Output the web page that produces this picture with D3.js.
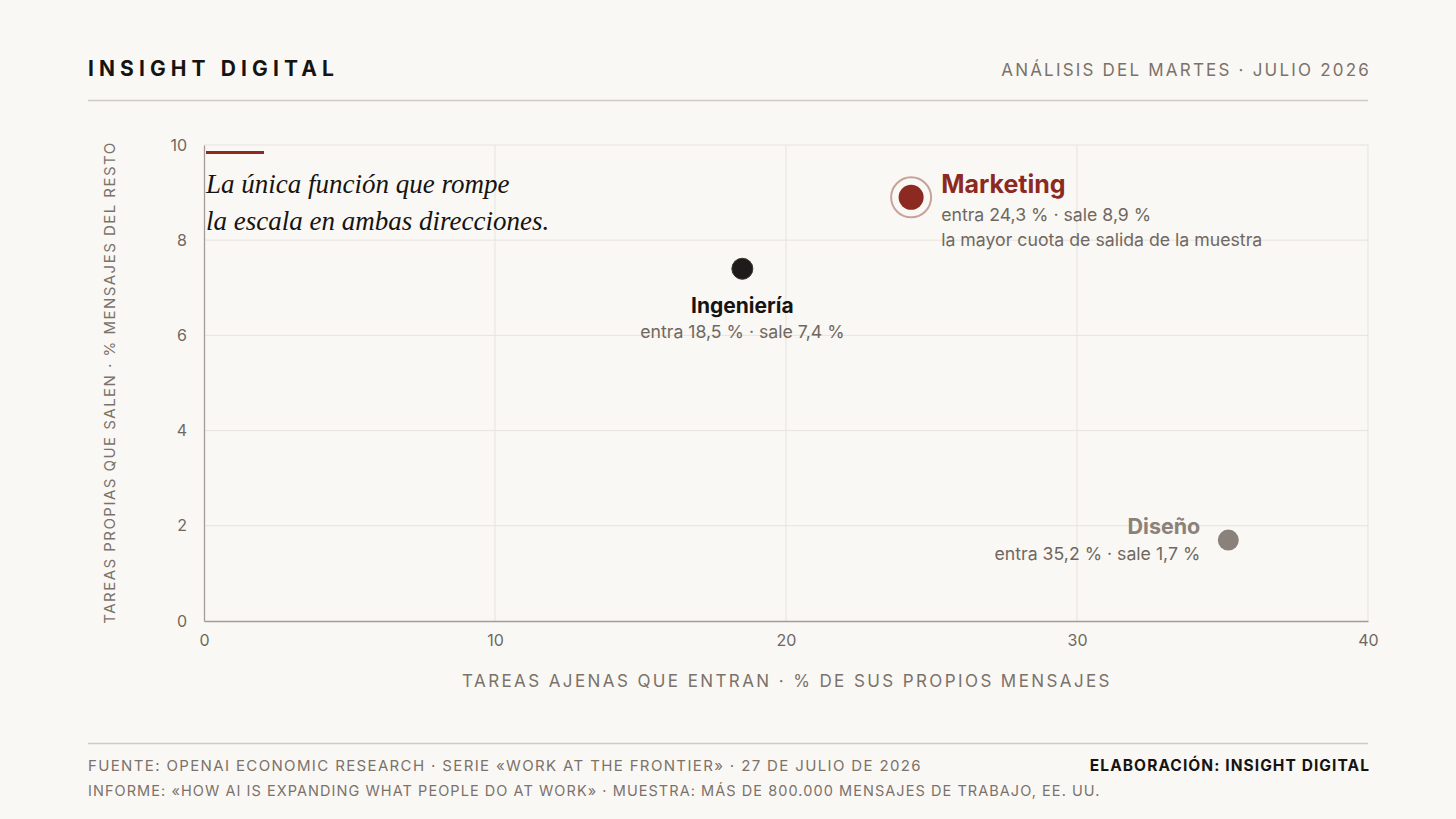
<!DOCTYPE html>
<html><head><meta charset="utf-8">
<script src="https://cdn.jsdelivr.net/npm/d3@7"></script>
<style>
html,body{margin:0;padding:0;background:#faf8f4;}
svg{display:block;font-family:Inter,"Noto Sans",sans-serif;}
</style></head>
<body><svg id="c" width="1456" height="819"></svg>
<script>
const names = ["Ingeniería","Marketing","Diseño"];
const entra = [18.5, 24.3, 35.2];
const sale = [7.4, 8.9, 1.7];
const subs = ["entra 18,5 % · sale 7,4 %","entra 24,3 % · sale 8,9 %","entra 35,2 % · sale 1,7 %"];
const extra = ["","la mayor cuota de salida de la muestra",""];
const xTicks = [0,10,20,30,40];
const yTicks = [0,2,4,6,8,10];

const svg = d3.select("#c");
const W=1456;
svg.append("rect").attr("width",W).attr("height",819).attr("fill","#faf8f4");

// header
svg.append("text").attr("x",88).attr("y",76).text("INSIGHT DIGITAL")
  .attr("font-size",21).attr("font-weight",700).attr("letter-spacing",5.1).attr("fill","#161412");
svg.append("text").attr("x",1371).attr("y",76).attr("text-anchor","end").text("ANÁLISIS DEL MARTES · JULIO 2026")
  .attr("font-size",17).attr("letter-spacing",2.2).attr("fill","#7a726b");
svg.append("line").attr("x1",88).attr("x2",1368).attr("y1",100.5).attr("y2",100.5).attr("stroke","#cfcbc5").attr("stroke-width",1.5);

const x = d3.scaleLinear().domain([0,40]).range([204,1368]);
const y = d3.scaleLinear().domain([0,10]).range([621,145]);

// grid
const g = svg.append("g");
g.selectAll(".gx").data(xTicks.slice(1)).join("line")
  .attr("x1",d=>x(d)).attr("x2",d=>x(d)).attr("y1",y(0)).attr("y2",y(10)).attr("stroke","#e6e3de");
g.selectAll(".gy").data(yTicks.slice(1)).join("line")
  .attr("x1",x(0)).attr("x2",x(40)).attr("y1",d=>y(d)).attr("y2",d=>y(d)).attr("stroke","#e6e3de");

// axes
const xa = svg.append("g").attr("transform",`translate(0,${y(0)})`)
  .call(d3.axisBottom(x).tickValues(xTicks).tickSize(0).tickPadding(14));
const ya = svg.append("g").attr("transform",`translate(${x(0)},0)`)
  .call(d3.axisLeft(y).tickValues(yTicks).tickSize(0).tickPadding(17));
[xa,ya].forEach(a=>{
  a.select(".domain").attr("stroke","#a39d97").attr("stroke-width",1.3);
  a.selectAll("text").attr("font-family","Inter,sans-serif").attr("font-size",16).attr("fill","#6f6861");
});

svg.append("text").attr("x",(x(0)+x(40))/2+1).attr("y",687).attr("text-anchor","middle")
  .text("TAREAS AJENAS QUE ENTRAN · % DE SUS PROPIOS MENSAJES")
  .attr("font-size",17).attr("letter-spacing",2.4).attr("fill","#7a726b");
svg.append("text").attr("transform",`translate(115,${(y(0)+y(10))/2-0.5}) rotate(-90)`).attr("text-anchor","middle")
  .text("TAREAS PROPIAS QUE SALEN · % MENSAJES DEL RESTO")
  .attr("font-size",15).attr("letter-spacing",1.47).attr("fill","#7a726b");

// annotation
svg.append("line").attr("x1",206).attr("x2",264).attr("y1",152.5).attr("y2",152.5).attr("stroke","#8c2a22").attr("stroke-width",3);
const ann = svg.append("text").attr("font-family","'Liberation Serif','DejaVu Serif',serif").attr("font-style","italic")
  .attr("font-size",27).attr("fill","#161412");
ann.append("tspan").attr("x",206).attr("y",193).text("La única función que rompe");
ann.append("tspan").attr("x",206).attr("y",230).text("la escala en ambas direcciones.");

// points
const pts = names.map((n,i)=>({n,ex:entra[i],sa:sale[i],sub:subs[i],extra:extra[i]}));
const colors = {"Ingeniería":"#1e1c1a","Marketing":"#8c2a22","Diseño":"#8a817a"};
const subSize = 17.7;
pts.forEach(p=>{
  const cx=x(p.ex), cy=y(p.sa);
  if(p.n==="Marketing"){
    svg.append("circle").attr("cx",cx).attr("cy",cy).attr("r",20).attr("fill","none").attr("stroke","#c8a19b").attr("stroke-width",2);
    svg.append("circle").attr("cx",cx).attr("cy",cy).attr("r",12.5).attr("fill",colors[p.n]);
    svg.append("text").attr("x",cx+30).attr("y",cy-4).text(p.n).attr("font-size",25).attr("font-weight",700).attr("fill",colors[p.n]);
    svg.append("text").attr("x",cx+30).attr("y",cy+24).text(p.sub).attr("font-size",subSize).attr("fill","#6f6861");
    svg.append("text").attr("x",cx+30).attr("y",cy+49).text(p.extra).attr("font-size",subSize).attr("fill","#6f6861");
  } else if(p.n==="Ingeniería"){
    svg.append("circle").attr("cx",cx).attr("cy",cy).attr("r",10.5).attr("fill",colors[p.n]).attr("stroke","#3a3632").attr("stroke-width",1);
    svg.append("text").attr("x",cx).attr("y",cy+44).attr("text-anchor","middle").text(p.n).attr("font-size",21).attr("font-weight",700).attr("fill","#161412");
    svg.append("text").attr("x",cx).attr("y",cy+69).attr("text-anchor","middle").text(p.sub).attr("font-size",subSize).attr("fill","#6f6861");
  } else {
    svg.append("circle").attr("cx",cx).attr("cy",cy).attr("r",10.5).attr("fill",colors[p.n]);
    svg.append("text").attr("x",cx-28).attr("y",cy-6).attr("text-anchor","end").text(p.n).attr("font-size",21.5).attr("font-weight",700).attr("fill",colors[p.n]);
    svg.append("text").attr("x",cx-28).attr("y",cy+20).attr("text-anchor","end").text(p.sub).attr("font-size",subSize).attr("fill","#6f6861");
  }
});

// footer
svg.append("line").attr("x1",88).attr("x2",1368).attr("y1",743.5).attr("y2",743.5).attr("stroke","#cfcbc5").attr("stroke-width",1.5);
svg.append("text").attr("x",88).attr("y",771).text("FUENTE: OPENAI ECONOMIC RESEARCH · SERIE «WORK AT THE FRONTIER» · 27 DE JULIO DE 2026")
  .attr("font-size",15).attr("letter-spacing",1.36).attr("fill","#7a726b");
svg.append("text").attr("x",1370).attr("y",771).attr("text-anchor","end").text("ELABORACIÓN: INSIGHT DIGITAL")
  .attr("font-size",15.5).attr("font-weight",700).attr("letter-spacing",1.07).attr("fill","#161412");
svg.append("text").attr("x",88).attr("y",796).text("INFORME: «HOW AI IS EXPANDING WHAT PEOPLE DO AT WORK» · MUESTRA: MÁS DE 800.000 MENSAJES DE TRABAJO, EE. UU.")
  .attr("font-size",14.5).attr("letter-spacing",1.06).attr("fill","#7a726b");
</script></body></html>
